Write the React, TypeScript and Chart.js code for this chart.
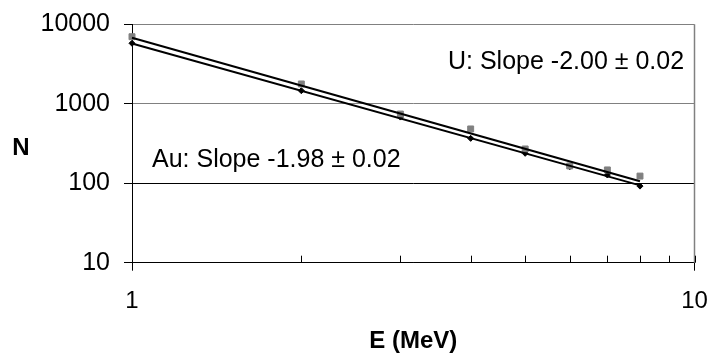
import React, { useEffect, useRef } from "react";
import { Chart, registerables } from "chart.js";

Chart.register(...registerables);

// ---- data ----
const energies = [1, 2, 3, 4, 5, 6, 7, 8];
const uCounts = [6980, 1775, 743, 482, 270, 165, 147, 123];
const auCounts = [5770, 1460, 680, 367, 238, 161, 127, 92];
const fitEnergies = [1, 8];
const uFit = [6780, 106];
const auFit = [5725, 94];
const yTicks = [10, 100, 1000, 10000];
const xTicks = [1, 10];
const xMinorTicks = [2, 3, 4, 5, 6, 7, 8, 9, 10];
const uLabel = "U: Slope -2.00 \u00b1 0.02";
const auLabel = "Au: Slope -1.98 \u00b1 0.02";
const yTitle = "N";
const xTitle = "E (MeV)";

const FONT = "'Liberation Sans', Arial, Helvetica, sans-serif";

const pts = (xs: number[], ys: number[]) => xs.map((x, i) => ({ x, y: ys[i] }));

const decorPlugin = {
  id: "decor",
  afterDraw(chart: any) {
    const { ctx, chartArea, scales } = chart;
    const xs = scales.x;
    ctx.save();
    // right border
    ctx.strokeStyle = "#808080";
    ctx.lineWidth = 1.5;
    ctx.beginPath();
    ctx.moveTo(chartArea.right, chartArea.top);
    ctx.lineTo(chartArea.right, chartArea.bottom);
    ctx.stroke();
    // minor inward ticks on x axis
    ctx.strokeStyle = "#000";
    ctx.lineWidth = 1;
    ctx.beginPath();
    for (const v of xMinorTicks) {
      const px = Math.round(xs.getPixelForValue(v)) + 0.5;
      ctx.moveTo(px, chartArea.bottom);
      ctx.lineTo(px, chartArea.bottom - 7);
    }
    ctx.stroke();
    // y title (horizontal)
    ctx.fillStyle = "#000";
    ctx.font = `bold 24px ${FONT}`;
    ctx.textAlign = "center";
    ctx.textBaseline = "middle";
    ctx.fillText(yTitle, 21, (chartArea.top + chartArea.bottom) / 2 + 5);
    // annotations
    ctx.font = `25px ${FONT}`;
    ctx.textAlign = "left";
    ctx.textBaseline = "alphabetic";
    ctx.fillText(uLabel, chartArea.left + 316, chartArea.top + 45);
    ctx.fillText(auLabel, chartArea.left + 20, chartArea.top + 142.5);
    ctx.restore();
  },
};

export default function App() {
  const ref = useRef<HTMLCanvasElement>(null);
  useEffect(() => {
    if (!ref.current) return;
    const chart = new Chart(ref.current, {
      type: "scatter",
      data: {
        datasets: [
          {
            label: "U fit",
            data: pts(fitEnergies, uFit),
            showLine: true,
            borderColor: "#000",
            borderWidth: 2,
            pointRadius: 0,
            clip: false,
          },
          {
            label: "Au fit",
            data: pts(fitEnergies, auFit),
            showLine: true,
            borderColor: "#000",
            borderWidth: 2,
            pointRadius: 0,
            clip: false,
          },
          {
            label: "U",
            data: pts(energies, uCounts),
            pointStyle: "rect",
            pointRadius: 4.2,
            backgroundColor: "#808080",
            borderColor: "#808080",
            pointBorderWidth: 1,
            clip: false,
          },
          {
            label: "Au",
            data: pts(energies, auCounts),
            pointStyle: "rectRot",
            pointRadius: 3,
            backgroundColor: "#000",
            borderColor: "#000",
            pointBorderWidth: 1,
            clip: false,
          },
        ],
      },
      options: {
        responsive: false,
        animation: false,
        devicePixelRatio: 1,
        layout: { padding: 0 },
        plugins: { legend: { display: false }, tooltip: { enabled: false } },
        scales: {
          x: {
            type: "logarithmic",
            min: 1,
            max: 10,
            afterBuildTicks: (s: any) => {
              s.ticks = xTicks.map((v) => ({ value: v }));
            },
            afterFit: (s: any) => {
              s.height = 94.3;
              s.paddingLeft = 0;
              s.paddingRight = 15.5;
            },
            ticks: {
              color: "#000",
              font: { family: FONT, size: 24 },
              padding: 16,
              maxRotation: 0,
              autoSkip: false,
              callback: (v: any) => String(v),
            },
            grid: {
              drawOnChartArea: false,
              tickLength: 8,
              color: "#000",
              tickColor: "#000",
            },
            border: { color: "#000", width: 1 },
            title: {
              display: true,
              text: xTitle,
              color: "#000",
              font: { family: FONT, size: 24, weight: "bold" },
              padding: { top: 0, bottom: 1 },
            },
          },
          y: {
            type: "logarithmic",
            min: 10,
            max: 10000,
            afterBuildTicks: (s: any) => {
              s.ticks = yTicks.map((v) => ({ value: v }));
            },
            afterFit: (s: any) => {
              s.width = 132;
              s.paddingTop = 24.3;
              s.paddingBottom = 0;
            },
            ticks: {
              color: "#000",
              font: { family: FONT, size: 25 },
              padding: 14,
              autoSkip: false,
              callback: (v: any) => String(v),
            },
            grid: {
              tickLength: 8,
              color: (c: any) =>
                c.tick && (c.tick.value === 100 || c.tick.value === 10) ? "#000" : "#808080",
              tickColor: "#000",
              lineWidth: 1,
            },
            border: { color: "#000", width: 1 },
          },
        },
      },
      plugins: [decorPlugin],
    });
    return () => chart.destroy();
  }, []);
  return (
    <div style={{ position: "absolute", left: 0, top: 0, width: 710, height: 357, background: "#fff" }}>
      <canvas ref={ref} width={710} height={357} style={{ display: "block" }} />
    </div>
  );
}
